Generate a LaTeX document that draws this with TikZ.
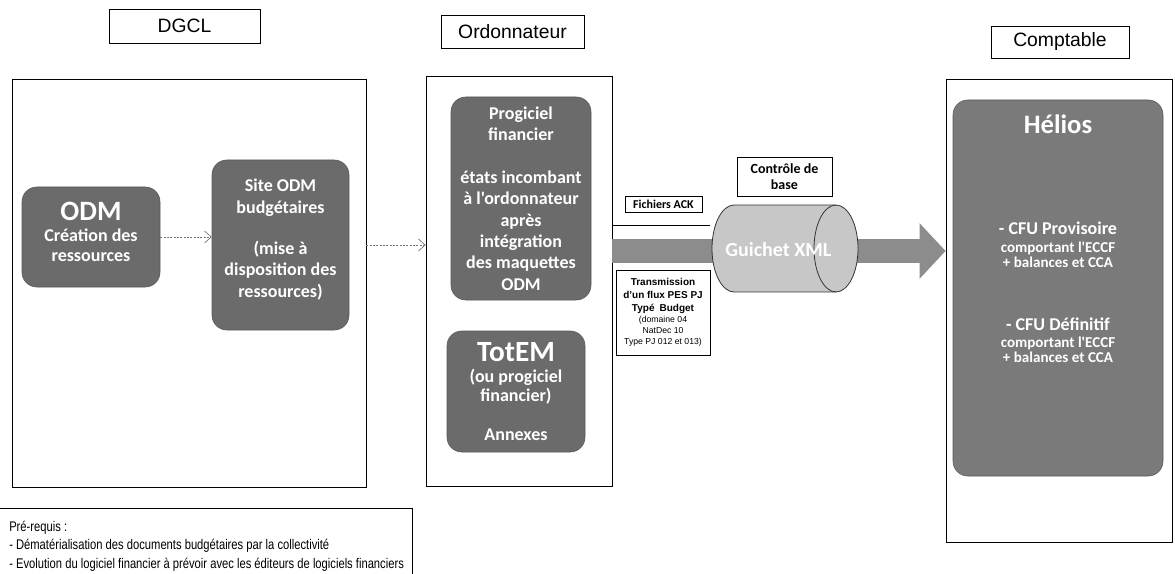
\documentclass[tikz,border=0pt]{standalone}
\usepackage{fontspec}
\setmainfont{Liberation Sans}
\newfontfamily\carlito{Carlito}
\newfontfamily\narrowsans[FakeStretch=0.8]{Liberation Sans}
\usetikzlibrary{arrows.meta}
\usetikzlibrary{calc}

\tikzset{
  titlebox/.style={draw, line width=0.6pt, inner sep=0pt, font=\fontsize{14.5}{16}\selectfont},
  zonebox/.style={draw, line width=0.6pt, inner sep=0pt},
  appbox/.style={draw=black!65, fill=black!58, rounded corners=11pt, text=white, align=center,
    inner sep=0pt, font=\carlito\bfseries\fontsize{13.5}{16}\selectfont},
  notebox/.style={draw, line width=0.5pt, inner sep=0pt, align=center},
  dasharrow/.style={black!55, line width=0.5pt, dash pattern=on 1.5pt off 1pt,
    -{Straight Barb[length=5pt,width=9pt]}},
}

\begin{document}
\begin{tikzpicture}[x=0.75pt,y=-0.75pt]
  \useasboundingbox (0,0) rectangle (1175,574);

  \node [titlebox, minimum width=113.25pt, minimum height=25.5pt] (dgcl) at (184.5,26) {DGCL};
  \node [titlebox, minimum width=107.25pt, minimum height=24.75pt] (ordonnateur) at (512.5,31.5) {Ordonnateur};
  \node [titlebox, minimum width=103.5pt, minimum height=24pt] (comptable) at (1060,42) {Comptable};

  \node [zonebox, minimum width=265.5pt, minimum height=306pt] (dgclzone) at (189,283) {};
  \node [zonebox, minimum width=139.5pt, minimum height=307.5pt] (ordozone) at (519,281) {};
  \node [zonebox, minimum width=169.5pt, minimum height=347.25pt] (comptzone) at (1059,310.5) {};

  \node [appbox, minimum width=103.5pt, minimum height=75pt] (odm) at (91,237)
    {{\fontsize{21}{21}\selectfont ODM}\\[0pt]Création des\\[-1pt]ressources\\[-8pt]\mbox{}};
  \node [appbox, minimum width=102.75pt, minimum height=127.5pt] (site) at (280.5,245)
    {Site ODM\\budgétaires\\[15pt](mise à\\disposition des\\ressources)\\[-6pt]\mbox{}};
  \node [appbox, minimum width=105pt, minimum height=152.25pt] (progiciel) at (521,198.5)
    {Progiciel\\financier\\[16pt]états incombant\\à l'ordonnateur\\après\\intégration\\des maquettes\\ODM};
  \node [appbox, minimum width=103.5pt, minimum height=90.75pt] (totem) at (516,391.5)
    {{\fontsize{22}{22}\selectfont TotEM}\\[0pt](ou progiciel\\[-2pt]financier)\\[13pt]Annexes};
  \node [appbox, fill=black!52, minimum width=157.5pt, minimum height=282pt] (helios) at (1058,288)
    {{\fontsize{20}{20}\selectfont Hélios}\\[60pt]
     - CFU Provisoire\\[-3pt]{\fontsize{11.3}{12}\selectfont comportant l'ECCF}\\[-4.5pt]
     {\fontsize{11.3}{12}\selectfont + balances et CCA}\\[31pt]
     - CFU Définitif\\[-3pt]{\fontsize{11.3}{12}\selectfont comportant l'ECCF}\\[-4.5pt]
     {\fontsize{11.3}{12}\selectfont + balances et CCA}\\[58pt]\mbox{}};

  \coordinate (ackline) at (710,225);
  \coordinate (bandstart) at (ordozone.east |- 0,251);
  \coordinate (bandend) at (comptzone.west |- 0,251);
  \coordinate (guichetc) at (785,248.5);

  \draw [line width=18pt, black!45, -{Triangle[length=19.5pt,width=40.5pt]}] (bandstart) -- (bandend);
  \draw [line width=0.6pt] (ordozone.east |- ackline) -- (ackline);

  \draw [draw=black!80, fill=black!22, line width=0.6pt]
    ($ (guichetc)+(-38.25pt,32.6pt) $) -- ($ (guichetc)+(38.25pt,32.6pt) $)
    arc [start angle=90, end angle=-90, x radius=16.5pt, y radius=32.6pt]
    -- ($ (guichetc)+(-38.25pt,-32.6pt) $)
    arc [start angle=270, end angle=90, x radius=16.5pt, y radius=32.6pt] -- cycle;
  \draw [draw=black!80, line width=0.6pt] ($ (guichetc)+(38.25pt,32.6pt) $)
    arc [start angle=90, end angle=270, x radius=16.5pt, y radius=32.6pt];
  \node [text=white, inner sep=0pt, font=\carlito\bfseries\fontsize{15}{15}\selectfont]
    (guichet) at ($ (guichetc)+(-5pt,-1pt) $) {Guichet XML};

  \node [notebox, minimum width=71.25pt, minimum height=29.25pt,
    font=\carlito\bfseries\fontsize{10.5}{12}\selectfont] (controle) at (784.5,176.5) {Contrôle de\\base};
  \node [notebox, minimum width=57.75pt, minimum height=12pt,
    font=\carlito\bfseries\fontsize{9}{10}\selectfont] (ack) at (663.5,204) {Fichiers ACK};
  \node [notebox, minimum width=70.5pt, minimum height=63.75pt,
    font=\bfseries\fontsize{7.5}{9.75}\selectfont] (transmission) at (663,312.5)
    {Transmission\\d'un flux PES PJ\\Typé\enspace Budget\\[-1.5pt]
     {\mdseries\fontsize{6.5}{8}\selectfont (domaine 04}\\[-1.5pt]
     {\mdseries\fontsize{6.5}{8}\selectfont NatDec 10}\\[-1.5pt]
     {\mdseries\fontsize{6.5}{8}\selectfont Type PJ 012 et 013)}};

  \draw [dasharrow] (odm) -- (odm -| site.west);
  \draw [dasharrow] (dgclzone.east |- site) -- (ordozone.west |- site);

  \draw [line width=0.6pt] (0,508) -- (412,508) -- (412,574);
  \node [anchor=west, align=left, inner sep=0pt,
    font=\narrowsans\fontsize{10.5}{14}\selectfont] (prerequis) at (9,546)
    {Pré-requis :\\- Dématérialisation des documents budgétaires par la collectivité\\
     - Evolution du logiciel financier à prévoir avec les éditeurs de logiciels financiers};
\end{tikzpicture}
\end{document}
